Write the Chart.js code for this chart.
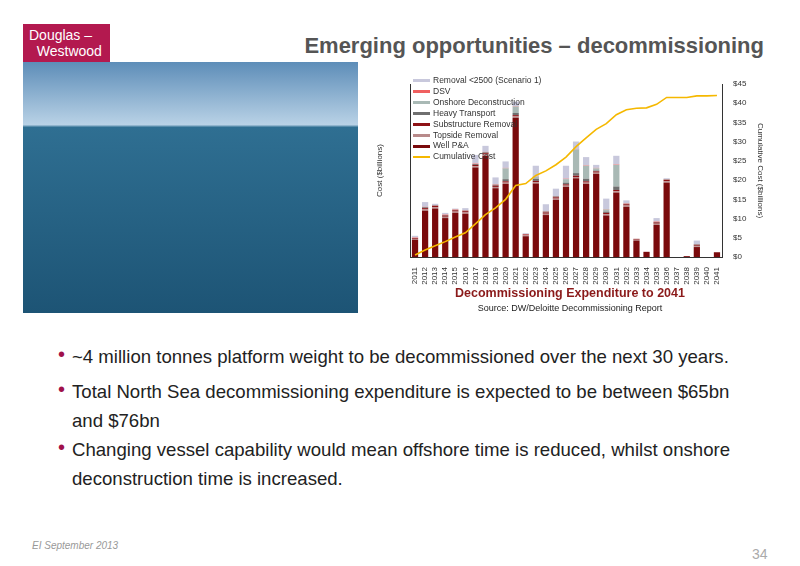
<!DOCTYPE html>
<html><head><meta charset="utf-8">
<script src="https://cdn.jsdelivr.net/npm/chart.js@4"></script>
<style>
body{margin:0;width:800px;height:566px;position:relative;background:#fff;font-family:"Liberation Sans",Arial,sans-serif;overflow:hidden}
.abs{position:absolute}
#logo{left:23px;top:24px;width:87px;height:38px;background:#b3194f;color:#fff;font-size:14px;line-height:16px;padding:3px 0 0 6px;box-sizing:border-box}
#title{right:36px;top:33px;font-size:22px;font-weight:bold;color:#555}
#photo{left:23px;top:62px;width:335px;height:251px;background:linear-gradient(#5d8db8 0%,#b9d2e6 25%,#2f6f92 26%,#1d5475 100%)}
#chartbox{left:375px;top:70px;width:390px;height:220px}
#legend{left:413px;top:75px;font-size:8.5px;color:#333;line-height:10.9px}
#legend span{display:inline-block;width:17px;height:3px;vertical-align:middle;margin-right:3px}
#ctitle{left:375px;width:390px;top:286px;text-align:center;color:#8b1a1a;font-weight:bold;font-size:12.5px}
#csrc{left:375px;width:390px;top:303px;text-align:center;color:#222;font-size:9px}
ul{position:absolute;left:52px;top:342px;margin:0;padding:0;list-style:none;width:700px;font-size:18.6px;color:#222;line-height:29px}
li{position:relative;padding-left:20px;margin-bottom:0}
li:before{content:"•";color:#a0104a;position:absolute;left:6px;top:-2px;font-size:20px}
#foot{left:32px;top:540px;font-size:10px;font-style:italic;color:#999}
#pg{left:752px;top:546px;font-size:14px;color:#aaa}
</style></head><body>
<div id="logo" class="abs">Douglas –<br>&nbsp;&nbsp;Westwood</div>
<div id="title" class="abs">Emerging opportunities – decommissioning</div>
<div id="photo" class="abs"></div>
<div id="chartbox" class="abs"><canvas id="c"></canvas></div>
<div id="legend" class="abs"></div>
<div id="ctitle" class="abs">Decommissioning Expenditure to 2041</div>
<div id="csrc" class="abs">Source: DW/Deloitte Decommissioning Report</div>
<ul>
<li>~4 million tonnes platform weight to be decommissioned over the next 30 years.</li>
<li style="margin-top:6px">Total North Sea decommissioning expenditure is expected to be between $65bn and $76bn</li>
<li style="margin-top:0px">Changing vessel capability would mean offshore time is reduced, whilst onshore deconstruction time is increased.</li>
</ul>
<div id="foot" class="abs">EI September 2013</div>
<div id="pg" class="abs">34</div>
<script>
const years=[];for(let y=2011;y<=2041;y++)years.push(String(y));
const wellPA=[0.40,1.07,1.12,0.90,1.02,1.00,2.07,2.34,1.59,1.69,3.22,0.48,1.70,0.97,1.32,1.62,1.82,1.69,1.92,0.96,1.49,1.16,0.38,0.12,0.74,1.72,0,0.02,0.23,0,0.11];
const topside=[0.02,0.03,0.03,0.03,0.03,0.03,0.03,0.03,0.03,0.03,0.03,0.02,0.03,0.03,0.03,0.03,0.03,0.03,0.03,0.03,0.03,0.03,0.02,0,0.03,0.03,0,0,0.02,0,0];
const substructure=[0.02,0.03,0.03,0.03,0.03,0.03,0.03,0.03,0.03,0.03,0.03,0.02,0.03,0.03,0.03,0.03,0.03,0.03,0.03,0.03,0.03,0.03,0.02,0,0.03,0.03,0,0,0.02,0,0];
const heavy=[0,0.02,0.01,0.01,0.01,0.01,0.02,0.02,0.02,0.05,0.05,0,0.05,0.02,0.02,0.04,0.06,0.06,0.02,0.03,0.08,0.01,0,0,0.01,0.01,0,0,0.02,0,0];
const onshore=[0,0,0,0,0,0,0,0,0,0.25,0.15,0,0.05,0,0,0.08,0.55,0.30,0.05,0.05,0.50,0,0,0,0,0,0,0,0,0,0];
const dsv=[0.01,0.01,0.01,0.01,0.01,0.01,0.01,0.01,0.01,0.01,0.01,0.01,0.01,0.01,0.01,0.01,0.01,0.01,0.01,0.01,0.01,0.01,0,0,0.01,0.01,0,0,0.01,0,0];
const removal=[0.04,0.11,0.03,0.04,0.02,0.05,0.20,0.14,0.16,0.15,0.10,0.02,0.24,0.16,0.17,0.30,0.17,0.19,0.07,0.24,0.20,0.07,0,0,0.08,0.02,0,0,0.08,0,0];
const cumulative=[0.5,1.8,2.9,4.0,5.2,6.3,8.6,11.0,12.8,15.0,18.6,19.1,21.2,22.4,24.0,26.0,28.7,31.0,33.2,34.7,37.0,38.3,38.7,38.8,39.7,41.5,41.5,41.5,41.9,41.9,42.0];
const rightTicks=['$0','$5','$10','$15','$20','$25','$30','$35','$40','$45'];
const C={wellPA:'#7a0a0c',topside:'#b88a8a',sub:'#8e1216',heavy:'#6f6f6f',onshore:'#a9b9b5',dsv:'#f06060',removal:'#c8c8dc',cum:'#f5b800'};
const bar=(label,data,color)=>({type:'bar',label,data,backgroundColor:color,stack:'s',yAxisID:'y',barPercentage:0.62,categoryPercentage:1,order:2});
const ds=[
 bar('Well P&A',wellPA,C.wellPA),
 bar('Topside Removal',topside,C.topside),
 bar('Substructure Removal',substructure,C.sub),
 bar('Heavy Transport',heavy,C.heavy),
 bar('Onshore Deconstruction',onshore,C.onshore),
 bar('DSV',dsv,C.dsv),
 bar('Removal <2500 (Scenario 1)',removal,C.removal),
 {type:'line',label:'Cumulative Cost',data:cumulative,borderColor:C.cum,borderWidth:1.6,pointRadius:0,tension:0,yAxisID:'y2',order:1}
];
const leg=document.getElementById('legend');
[['Removal <2500 (Scenario 1)',C.removal],['DSV',C.dsv],['Onshore Deconstruction',C.onshore],['Heavy Transport',C.heavy],['Substructure Removal',C.sub],['Topside Removal',C.topside],['Well P&A',C.wellPA],['Cumulative Cost',C.cum]].forEach(([t,c])=>{
 leg.innerHTML+=`<div><span style="background:${c};${t==='Cumulative Cost'?'height:2px':''}"></span>${t.replace('<','&lt;')}</div>`;});
new Chart(document.getElementById('c'),{data:{labels:years,datasets:ds},options:{
 responsive:true,maintainAspectRatio:false,animation:false,
 layout:{padding:{top:14,left:0,right:0,bottom:0}},
 plugins:{legend:{display:false},tooltip:{enabled:false}},
 scales:{
  x:{stacked:true,grid:{display:false},border:{color:'#333'},ticks:{maxRotation:90,minRotation:90,autoSkip:false,font:{size:8},color:'#333',padding:2},afterFit:s=>{s.height=33}},
  y:{stacked:true,min:0,max:4,ticks:{stepSize:0.5,display:false},grid:{display:false,drawTicks:true},border:{color:'#333'},
     title:{display:true,text:'Cost ($billions)',font:{size:8},color:'#333',padding:0},afterFit:s=>{s.width=35}},
  y2:{position:'right',min:0,max:45,grid:{display:false},border:{color:'#333'},
     ticks:{stepSize:5,font:{size:8},color:'#333',callback:(v,i)=>rightTicks[i]},
     title:{display:true,text:'Cumulative Cost ($billions)',font:{size:8},color:'#333',padding:0},afterFit:s=>{s.width=43}}
 }}});
</script></body></html>
